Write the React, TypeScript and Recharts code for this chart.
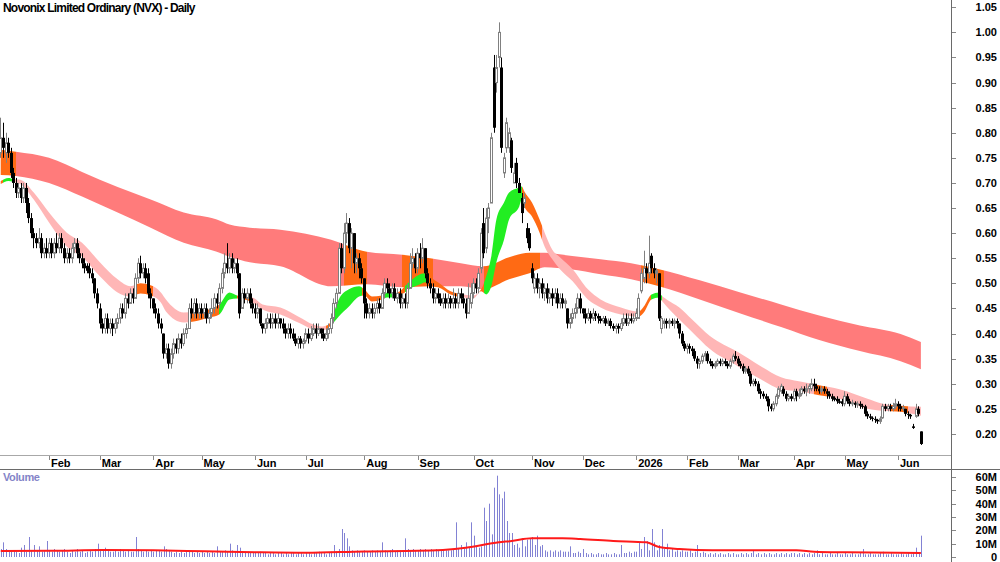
import React from "react";
import { Area, Bar, ComposedChart, Line, XAxis, YAxis } from "recharts";

const FONT = '"Liberation Sans", Arial, Helvetica, sans-serif';

// one entry per trading day, Jan 2025 .. mid Jun 2026
const opens = [
  0.76, 0.79, 0.76, 0.78, 0.76, 0.72, 0.7, 0.68, 0.69, 0.67, 0.69, 0.66, 0.63, 0.6, 0.59, 0.58, 0.59, 0.56, 0.57,
  0.56, 0.58, 0.56, 0.58, 0.57, 0.59, 0.57, 0.55, 0.56, 0.55, 0.57, 0.58, 0.56, 0.55, 0.54, 0.535, 0.53, 0.52, 0.51, 0.48,
  0.45, 0.42, 0.41, 0.43, 0.41, 0.42, 0.41, 0.42, 0.43, 0.45, 0.44, 0.47, 0.46, 0.48, 0.47, 0.51, 0.54, 0.52, 0.53, 0.52, 0.48,
  0.47, 0.45, 0.44, 0.42, 0.4, 0.36, 0.37, 0.34, 0.36, 0.38, 0.37, 0.39, 0.38, 0.4, 0.41, 0.45, 0.44, 0.46, 0.44,
  0.45, 0.44, 0.45, 0.43, 0.44, 0.45, 0.47, 0.46, 0.49, 0.52, 0.54, 0.53, 0.55, 0.53, 0.54, 0.52, 0.45, 0.48, 0.47, 0.48, 0.46,
  0.45, 0.44, 0.45, 0.42, 0.41, 0.42, 0.43, 0.42, 0.43, 0.42, 0.43, 0.42, 0.41, 0.4, 0.41, 0.4, 0.39, 0.38, 0.39, 0.38,
  0.385, 0.4, 0.39, 0.4, 0.41, 0.4, 0.41, 0.4, 0.39, 0.4, 0.41, 0.43, 0.46, 0.48, 0.57, 0.53, 0.6, 0.62, 0.57, 0.6, 0.54, 0.55, 0.53,
  0.51, 0.46, 0.44, 0.45, 0.44, 0.45, 0.46, 0.45, 0.48, 0.5, 0.49, 0.48, 0.49, 0.47, 0.48, 0.46, 0.47, 0.46, 0.49, 0.54, 0.55,
  0.53, 0.56, 0.55, 0.57, 0.52, 0.5, 0.49, 0.47, 0.48, 0.47, 0.46, 0.47, 0.46, 0.47, 0.46, 0.47, 0.46, 0.48, 0.47, 0.46, 0.44, 0.46,
  0.48, 0.5, 0.49, 0.53, 0.62, 0.57, 0.63, 0.66, 0.93, 0.9, 0.95, 0.93, 0.72, 0.77, 0.77, 0.785, 0.7, 0.74, 0.7, 0.67, 0.66, 0.61, 0.6,
  0.53, 0.49, 0.51, 0.49, 0.5, 0.48, 0.49, 0.47, 0.48, 0.47, 0.48, 0.46, 0.47, 0.46, 0.45, 0.42, 0.43, 0.44, 0.45, 0.47,
  0.45, 0.44, 0.43, 0.44, 0.43, 0.44, 0.435, 0.43, 0.425, 0.43, 0.42, 0.425, 0.415, 0.41, 0.415, 0.41, 0.42, 0.43, 0.42, 0.43, 0.425,
  0.43, 0.43, 0.485, 0.51, 0.53, 0.52, 0.555, 0.53, 0.52, 0.52, 0.41, 0.42, 0.425, 0.42, 0.425, 0.42, 0.425, 0.42, 0.4, 0.38,
  0.37, 0.375, 0.37, 0.365, 0.35, 0.34, 0.345, 0.355, 0.36, 0.345, 0.34, 0.335, 0.34, 0.345, 0.34, 0.345, 0.34, 0.335, 0.345, 0.355,
  0.35, 0.34, 0.335, 0.325, 0.33, 0.32, 0.3, 0.305, 0.3, 0.285, 0.28, 0.275, 0.27, 0.255, 0.25, 0.26, 0.275, 0.285, 0.29, 0.28, 0.27, 0.275,
  0.27, 0.285, 0.275, 0.28, 0.29, 0.285, 0.29, 0.29, 0.3, 0.295, 0.29, 0.285, 0.29, 0.285, 0.28, 0.275, 0.272, 0.27, 0.265, 0.265,
  0.26, 0.275, 0.265, 0.26, 0.262, 0.258, 0.26, 0.256, 0.255, 0.24, 0.235, 0.232, 0.23, 0.228, 0.225, 0.232, 0.255, 0.25, 0.255, 0.25, 0.255,
  0.26, 0.255, 0.25, 0.25, 0.24, 0.238, 0.215, 0.235, 0.25, 0.205,
];

const highs = [
  0.83, 0.82, 0.8, 0.79, 0.77, 0.73, 0.71, 0.7, 0.7, 0.7, 0.7, 0.67, 0.64, 0.61, 0.6, 0.61, 0.6, 0.58, 0.59,
  0.59, 0.59, 0.59, 0.6, 0.6, 0.6, 0.58, 0.57, 0.57, 0.58, 0.59, 0.59, 0.57, 0.56, 0.55, 0.54, 0.54, 0.53, 0.51, 0.49,
  0.46, 0.43, 0.44, 0.44, 0.43, 0.43, 0.43, 0.44, 0.46, 0.46, 0.48, 0.48, 0.49, 0.49, 0.52, 0.55, 0.555, 0.54, 0.54, 0.53, 0.49,
  0.47, 0.46, 0.45, 0.43, 0.4, 0.38, 0.38, 0.37, 0.39, 0.39, 0.4, 0.4, 0.41, 0.42, 0.46, 0.47, 0.47, 0.47, 0.46,
  0.46, 0.46, 0.46, 0.45, 0.47, 0.48, 0.48, 0.5, 0.53, 0.56, 0.58, 0.56, 0.56, 0.55, 0.55, 0.52, 0.49, 0.49, 0.49, 0.49, 0.47,
  0.46, 0.46, 0.45, 0.42, 0.43, 0.44, 0.44, 0.44, 0.44, 0.44, 0.43, 0.43, 0.42, 0.42, 0.42, 0.41, 0.4, 0.395, 0.395, 0.39,
  0.41, 0.41, 0.415, 0.42, 0.42, 0.42, 0.41, 0.41, 0.41, 0.42, 0.44, 0.47, 0.49, 0.58, 0.58, 0.62, 0.64, 0.63, 0.61, 0.6, 0.56, 0.56, 0.54,
  0.51, 0.47, 0.46, 0.46, 0.46, 0.47, 0.47, 0.49, 0.51, 0.51, 0.5, 0.5, 0.5, 0.49, 0.49, 0.48, 0.48, 0.5, 0.56, 0.57, 0.56,
  0.57, 0.58, 0.59, 0.57, 0.53, 0.51, 0.5, 0.49, 0.49, 0.48, 0.48, 0.48, 0.48, 0.475, 0.49, 0.48, 0.49, 0.49, 0.48, 0.47, 0.5, 0.5,
  0.51, 0.51, 0.53, 0.61, 0.65, 0.65, 0.66, 0.8, 0.955, 0.955, 1.02, 0.95, 0.76, 0.83, 0.81, 0.79, 0.74, 0.75, 0.71, 0.68, 0.68, 0.62, 0.61,
  0.54, 0.52, 0.52, 0.51, 0.51, 0.5, 0.5, 0.49, 0.49, 0.49, 0.49, 0.48, 0.48, 0.47, 0.45, 0.44, 0.45, 0.46, 0.48, 0.48,
  0.45, 0.45, 0.45, 0.445, 0.45, 0.445, 0.44, 0.435, 0.435, 0.435, 0.43, 0.43, 0.42, 0.42, 0.42, 0.43, 0.44, 0.44, 0.44, 0.44, 0.44,
  0.45, 0.48, 0.53, 0.565, 0.54, 0.595, 0.56, 0.54, 0.53, 0.52, 0.435, 0.43, 0.43, 0.43, 0.43, 0.43, 0.43, 0.42, 0.405, 0.385,
  0.38, 0.38, 0.375, 0.37, 0.355, 0.35, 0.36, 0.365, 0.365, 0.35, 0.345, 0.345, 0.35, 0.35, 0.35, 0.35, 0.345, 0.35, 0.36, 0.365,
  0.355, 0.345, 0.34, 0.335, 0.335, 0.325, 0.31, 0.31, 0.305, 0.29, 0.285, 0.28, 0.275, 0.26, 0.265, 0.28, 0.295, 0.3, 0.295, 0.285, 0.28, 0.28,
  0.29, 0.29, 0.29, 0.295, 0.295, 0.3, 0.3, 0.31, 0.31, 0.3, 0.295, 0.295, 0.295, 0.29, 0.285, 0.28, 0.275, 0.275, 0.27, 0.27,
  0.285, 0.28, 0.27, 0.268, 0.265, 0.265, 0.265, 0.26, 0.258, 0.245, 0.24, 0.235, 0.235, 0.23, 0.235, 0.26, 0.26, 0.26, 0.26, 0.262, 0.27,
  0.265, 0.26, 0.258, 0.25, 0.245, 0.24, 0.22, 0.26, 0.255, 0.205,
];

const lows = [
  0.75, 0.75, 0.74, 0.75, 0.71, 0.69, 0.67, 0.67, 0.66, 0.66, 0.64, 0.62, 0.59, 0.57, 0.57, 0.57, 0.55, 0.55, 0.55,
  0.55, 0.55, 0.55, 0.56, 0.56, 0.56, 0.54, 0.54, 0.54, 0.54, 0.56, 0.55, 0.54, 0.53, 0.52, 0.52, 0.51, 0.5, 0.47, 0.45,
  0.41, 0.4, 0.4, 0.4, 0.4, 0.395, 0.4, 0.41, 0.42, 0.43, 0.43, 0.45, 0.46, 0.46, 0.47, 0.5, 0.51, 0.51, 0.5, 0.47, 0.45,
  0.44, 0.43, 0.41, 0.4, 0.35, 0.35, 0.33, 0.33, 0.35, 0.36, 0.36, 0.37, 0.375, 0.39, 0.41, 0.43, 0.43, 0.43, 0.43,
  0.43, 0.43, 0.42, 0.42, 0.43, 0.44, 0.45, 0.45, 0.48, 0.51, 0.52, 0.52, 0.52, 0.52, 0.51, 0.43, 0.45, 0.46, 0.46, 0.45, 0.44,
  0.43, 0.43, 0.415, 0.4, 0.4, 0.41, 0.41, 0.41, 0.41, 0.41, 0.41, 0.4, 0.39, 0.39, 0.39, 0.385, 0.375, 0.37, 0.37, 0.37,
  0.38, 0.38, 0.385, 0.395, 0.39, 0.395, 0.39, 0.385, 0.385, 0.39, 0.4, 0.42, 0.45, 0.48, 0.52, 0.52, 0.58, 0.56, 0.53, 0.52, 0.52, 0.51, 0.5,
  0.43, 0.43, 0.43, 0.43, 0.43, 0.44, 0.44, 0.45, 0.47, 0.48, 0.47, 0.47, 0.465, 0.46, 0.45, 0.45, 0.45, 0.45, 0.49, 0.53, 0.52,
  0.52, 0.53, 0.54, 0.51, 0.49, 0.48, 0.46, 0.46, 0.46, 0.455, 0.45, 0.45, 0.45, 0.45, 0.45, 0.45, 0.45, 0.46, 0.45, 0.43, 0.44, 0.45,
  0.47, 0.48, 0.48, 0.52, 0.55, 0.56, 0.6, 0.66, 0.8, 0.88, 0.93, 0.76, 0.71, 0.76, 0.76, 0.72, 0.7, 0.69, 0.68, 0.62, 0.65, 0.58, 0.565,
  0.5, 0.48, 0.48, 0.47, 0.47, 0.465, 0.46, 0.46, 0.455, 0.46, 0.45, 0.45, 0.45, 0.45, 0.41, 0.41, 0.42, 0.43, 0.44, 0.44,
  0.43, 0.42, 0.425, 0.42, 0.425, 0.425, 0.42, 0.42, 0.42, 0.415, 0.415, 0.41, 0.405, 0.4, 0.4, 0.405, 0.415, 0.415, 0.415, 0.42, 0.42,
  0.425, 0.43, 0.48, 0.5, 0.5, 0.51, 0.52, 0.51, 0.5, 0.425, 0.4, 0.41, 0.41, 0.41, 0.415, 0.41, 0.41, 0.39, 0.375, 0.365,
  0.36, 0.36, 0.355, 0.345, 0.33, 0.33, 0.34, 0.345, 0.34, 0.335, 0.33, 0.33, 0.335, 0.335, 0.335, 0.335, 0.33, 0.33, 0.34, 0.345,
  0.335, 0.33, 0.32, 0.32, 0.315, 0.295, 0.295, 0.295, 0.28, 0.27, 0.27, 0.265, 0.245, 0.245, 0.245, 0.255, 0.27, 0.28, 0.275, 0.265, 0.265, 0.265,
  0.265, 0.265, 0.27, 0.275, 0.28, 0.275, 0.28, 0.285, 0.285, 0.285, 0.28, 0.28, 0.28, 0.27, 0.27, 0.265, 0.265, 0.26, 0.26, 0.255,
  0.255, 0.26, 0.255, 0.255, 0.252, 0.252, 0.25, 0.25, 0.235, 0.23, 0.228, 0.225, 0.222, 0.22, 0.22, 0.23, 0.245, 0.245, 0.245, 0.245, 0.25,
  0.245, 0.245, 0.245, 0.235, 0.23, 0.23, 0.21, 0.232, 0.235, 0.178,
];

const closes = [
  0.79, 0.77, 0.78, 0.76, 0.72, 0.7, 0.68, 0.69, 0.67, 0.69, 0.66, 0.63, 0.6, 0.59, 0.58, 0.59, 0.56, 0.57, 0.56,
  0.58, 0.56, 0.58, 0.57, 0.59, 0.57, 0.55, 0.56, 0.55, 0.57, 0.58, 0.56, 0.55, 0.54, 0.53, 0.525, 0.52, 0.51, 0.48, 0.46,
  0.42, 0.41, 0.43, 0.41, 0.42, 0.41, 0.42, 0.43, 0.45, 0.44, 0.47, 0.46, 0.48, 0.47, 0.51, 0.54, 0.52, 0.53, 0.51, 0.48, 0.47,
  0.45, 0.44, 0.42, 0.41, 0.36, 0.37, 0.34, 0.36, 0.38, 0.37, 0.39, 0.38, 0.4, 0.41, 0.45, 0.44, 0.46, 0.44, 0.45,
  0.44, 0.45, 0.43, 0.44, 0.45, 0.47, 0.46, 0.49, 0.52, 0.54, 0.53, 0.55, 0.53, 0.54, 0.52, 0.44, 0.48, 0.47, 0.48, 0.46, 0.45,
  0.44, 0.45, 0.42, 0.41, 0.42, 0.43, 0.42, 0.43, 0.42, 0.43, 0.42, 0.41, 0.4, 0.41, 0.4, 0.39, 0.38, 0.39, 0.38, 0.385,
  0.4, 0.39, 0.4, 0.41, 0.4, 0.41, 0.4, 0.39, 0.4, 0.41, 0.43, 0.46, 0.48, 0.57, 0.53, 0.6, 0.62, 0.57, 0.6, 0.54, 0.55, 0.53, 0.51,
  0.46, 0.44, 0.45, 0.44, 0.45, 0.46, 0.45, 0.48, 0.5, 0.49, 0.48, 0.49, 0.47, 0.48, 0.46, 0.47, 0.46, 0.49, 0.54, 0.55, 0.53,
  0.56, 0.55, 0.57, 0.52, 0.5, 0.49, 0.47, 0.48, 0.47, 0.46, 0.47, 0.46, 0.47, 0.46, 0.47, 0.46, 0.48, 0.47, 0.46, 0.44, 0.47, 0.48,
  0.5, 0.49, 0.52, 0.6, 0.56, 0.63, 0.65, 0.79, 0.81, 0.93, 1.0, 0.77, 0.75, 0.82, 0.8, 0.73, 0.72, 0.7, 0.68, 0.64, 0.67, 0.59, 0.57,
  0.51, 0.51, 0.49, 0.5, 0.48, 0.49, 0.47, 0.48, 0.47, 0.48, 0.46, 0.47, 0.46, 0.465, 0.42, 0.43, 0.44, 0.45, 0.47, 0.45,
  0.44, 0.43, 0.44, 0.43, 0.44, 0.435, 0.43, 0.425, 0.43, 0.42, 0.425, 0.415, 0.41, 0.415, 0.41, 0.42, 0.43, 0.42, 0.43, 0.425, 0.43,
  0.44, 0.47, 0.52, 0.53, 0.52, 0.54, 0.53, 0.52, 0.525, 0.43, 0.43, 0.425, 0.42, 0.425, 0.42, 0.425, 0.42, 0.4, 0.38, 0.37,
  0.375, 0.37, 0.365, 0.35, 0.34, 0.345, 0.355, 0.36, 0.345, 0.34, 0.335, 0.34, 0.345, 0.34, 0.345, 0.34, 0.335, 0.345, 0.355, 0.35,
  0.34, 0.335, 0.325, 0.33, 0.32, 0.3, 0.305, 0.3, 0.285, 0.28, 0.275, 0.27, 0.255, 0.25, 0.26, 0.275, 0.29, 0.295, 0.28, 0.27, 0.275, 0.27,
  0.285, 0.275, 0.28, 0.29, 0.285, 0.29, 0.295, 0.3, 0.295, 0.29, 0.285, 0.29, 0.285, 0.28, 0.275, 0.27, 0.268, 0.265, 0.262, 0.26,
  0.275, 0.265, 0.26, 0.262, 0.258, 0.26, 0.256, 0.255, 0.24, 0.235, 0.232, 0.23, 0.228, 0.225, 0.23, 0.255, 0.25, 0.255, 0.25, 0.255, 0.26,
  0.255, 0.25, 0.252, 0.24, 0.238, 0.235, 0.212, 0.25, 0.24, 0.18,
];

// millions of shares
const volumes = [
  6, 11, 6, 4, 4, 5, 4, 3, 7, 9, 4, 15, 5, 9, 5, 8, 4, 5, 12,
  5, 4, 6, 5, 4, 5, 6, 4, 3, 5, 4, 6, 4, 5, 3, 4, 5, 4, 6, 10,
  6, 5, 7, 5, 4, 4, 5, 4, 6, 5, 4, 5, 4, 4, 15, 6, 5, 4, 5, 4, 5,
  4, 5, 5, 4, 8, 6, 5, 4, 3, 4, 3, 4, 3, 4, 5, 4, 3, 4, 3,
  4, 3, 4, 3, 4, 3, 8, 4, 4, 5, 4, 10, 5, 4, 9, 7, 4, 3, 4, 3, 3,
  3, 3, 4, 3, 3, 2, 3, 3, 2, 3, 3, 2, 3, 2, 3, 3, 2, 3, 3, 2,
  3, 3, 2, 3, 3, 4, 3, 3, 2, 3, 4, 9, 4, 6, 21, 18, 14, 8, 5, 4, 5, 4, 4,
  5, 4, 4, 5, 4, 5, 4, 11, 5, 4, 5, 6, 4, 5, 5, 4, 14, 6, 5, 6, 5,
  5, 6, 5, 6, 5, 6, 5, 6, 5, 5, 6, 5, 5, 5, 6, 26, 6, 9, 6, 11, 7, 26,
  16, 8, 7, 8, 37, 27, 40, 17, 52, 61, 47, 44, 49, 27, 18, 18, 9, 10, 7, 14, 8, 13, 14,
  15, 9, 16, 8, 9, 5, 4, 5, 4, 5, 4, 5, 4, 4, 4, 8, 3, 3, 4, 3,
  6, 3, 2, 3, 2, 2, 3, 2, 2, 3, 2, 2, 3, 2, 2, 9, 3, 3, 4, 3, 4,
  4, 11, 6, 15, 12, 5, 21, 11, 5, 9, 21, 6, 10, 5, 6, 4, 5, 4, 5, 4,
  4, 5, 3, 4, 9, 3, 4, 3, 2, 3, 2, 3, 2, 3, 2, 2, 3, 2, 3, 2,
  2, 3, 2, 3, 2, 3, 5, 2, 3, 2, 3, 2, 3, 2, 2, 3, 2, 3, 2, 3, 2, 3,
  3, 2, 3, 2, 3, 2, 3, 2, 3, 5, 2, 3, 2, 2, 3, 2, 2, 3, 2, 2,
  3, 2, 2, 3, 2, 2, 3, 6, 2, 2, 3, 2, 2, 2, 3, 4, 2, 2, 3, 2, 2,
  2, 3, 2, 2, 3, 2, 3, 7, 3, 16,
];

// long-term ribbon edges, read at these day indexes
const longIdx = [0, 6, 19, 32, 46, 59, 72, 85, 90, 98, 110, 130, 144, 158, 169, 181, 190, 200, 208, 214, 224, 236, 248, 259, 275, 291, 307, 322, 338, 354, 362];
const longLo = [0.716, 0.714, 0.7, 0.673, 0.641, 0.611, 0.581, 0.563, 0.553, 0.542, 0.534, 0.494, 0.498, 0.492, 0.494, 0.494, 0.488, 0.508, 0.52, 0.532, 0.528, 0.518, 0.508, 0.494, 0.468, 0.44, 0.413, 0.387, 0.365, 0.345, 0.329];
const longHi = [0.766, 0.762, 0.75, 0.722, 0.692, 0.667, 0.641, 0.627, 0.617, 0.611, 0.607, 0.587, 0.563, 0.557, 0.55, 0.54, 0.534, 0.552, 0.561, 0.561, 0.555, 0.548, 0.54, 0.528, 0.506, 0.482, 0.458, 0.436, 0.416, 0.399, 0.383];

// short-term ribbon edges
const shortIdx = [0, 3, 5, 8, 13, 19, 26, 32, 39, 46, 51, 55, 59, 63, 65, 72, 76, 82, 86, 90, 93, 96, 99, 103, 110, 117, 123, 126, 129, 131, 133, 137, 141, 143, 146, 150, 152, 155, 157, 159, 162, 165, 167, 169, 172, 177, 182, 186, 189, 191, 193, 195, 198, 200, 204, 205, 206, 209, 212, 214, 217, 220, 225, 231, 236, 244, 251, 253, 256, 259, 260, 262, 267, 272, 279, 290, 299, 307, 314, 322, 330, 341, 347, 354, 362];
const shortHi = [0.704, 0.71, 0.708, 0.706, 0.681, 0.641, 0.601, 0.581, 0.542, 0.508, 0.494, 0.5, 0.496, 0.482, 0.468, 0.442, 0.444, 0.448, 0.458, 0.482, 0.476, 0.474, 0.472, 0.458, 0.452, 0.434, 0.418, 0.414, 0.418, 0.442, 0.468, 0.488, 0.494, 0.488, 0.474, 0.476, 0.482, 0.48, 0.484, 0.494, 0.508, 0.518, 0.52, 0.512, 0.502, 0.484, 0.478, 0.476, 0.488, 0.514, 0.554, 0.627, 0.661, 0.681, 0.691, 0.693, 0.683, 0.661, 0.627, 0.601, 0.567, 0.552, 0.528, 0.488, 0.468, 0.452, 0.444, 0.454, 0.478, 0.482, 0.476, 0.468, 0.452, 0.428, 0.395, 0.363, 0.335, 0.313, 0.305, 0.297, 0.289, 0.27, 0.26, 0.256, 0.254];
const shortLo = [0.698, 0.704, 0.702, 0.697, 0.667, 0.621, 0.573, 0.553, 0.514, 0.482, 0.474, 0.48, 0.476, 0.462, 0.444, 0.422, 0.424, 0.432, 0.438, 0.468, 0.47, 0.468, 0.462, 0.448, 0.438, 0.422, 0.408, 0.405, 0.412, 0.422, 0.434, 0.454, 0.474, 0.476, 0.464, 0.468, 0.472, 0.472, 0.476, 0.482, 0.492, 0.498, 0.502, 0.494, 0.492, 0.478, 0.472, 0.47, 0.484, 0.478, 0.494, 0.542, 0.587, 0.627, 0.653, 0.667, 0.653, 0.633, 0.601, 0.573, 0.548, 0.528, 0.504, 0.468, 0.452, 0.438, 0.434, 0.442, 0.468, 0.472, 0.466, 0.454, 0.428, 0.403, 0.369, 0.335, 0.309, 0.289, 0.285, 0.277, 0.27, 0.25, 0.246, 0.244, 0.236];

// colour state of each ribbon along the days: [from, to, state]
const longSpans: [number, number, string][] = [
  [0, 6, "o"], [6, 135, "r"], [135, 144, "o"], [144, 158, "r"], [158, 170, "o"], [170, 190, "r"],
  [190, 212, "o"], [212, 252, "r"], [252, 261, "o"], [261, 362, "r"],
];
const shortSpans: [number, number, string][] = [
  [0, 1, "o"], [1, 5, "g"], [5, 53, "p"], [53, 60, "o"], [60, 74, "p"], [74, 86, "o"], [86, 93, "g"],
  [93, 99, "o"], [99, 128, "p"], [128, 130, "o"], [130, 142, "g"], [142, 151, "o"], [151, 155, "g"],
  [155, 159, "o"], [159, 168, "g"], [168, 180, "o"], [180, 188, "p"], [188, 190, "o"], [190, 205, "g"],
  [205, 213, "o"], [213, 251, "p"], [251, 256, "o"], [256, 260, "g"], [260, 320, "p"], [320, 325, "o"],
  [325, 350, "p"], [350, 357, "o"], [357, 362, "p"],
];

// volume average (millions)
const volAvgIdx = [0, 20, 40, 60, 80, 100, 120, 143, 164, 183, 196, 201, 209, 221, 228, 241, 254, 259, 267, 280, 313, 320, 333, 362];
const volAvg = [4.5, 4.6, 5.2, 5.0, 4.3, 3.6, 3.2, 4.2, 4.6, 7, 11, 12, 14, 14, 13.5, 12, 11, 7.5, 6, 5, 5, 4, 3.5, 3];

const monthTicks = [19, 39, 60, 79, 100, 120, 143, 164, 186, 209, 229, 250, 270, 290, 312, 332, 353];
const monthLabels = ["Feb", "Mar", "Apr", "May", "Jun", "Jul", "Aug", "Sep", "Oct", "Nov", "Dec", "2026", "Feb", "Mar", "Apr", "May", "Jun"];
const priceTicks = [0.2, 0.25, 0.3, 0.35, 0.4, 0.45, 0.5, 0.55, 0.6, 0.65, 0.7, 0.75, 0.8, 0.85, 0.9, 0.95, 1.0, 1.05];
const volumeTicks = [0, 10, 20, 30, 40, 50, 60];

const COLORS: Record<string, string> = { r: "#ff7b7b", o: "#ff6a14", p: "#ffb6b6", g: "#22ee22" };
const X_DOMAIN: [number, number] = [-0.28, 373.85];
const PRICE_DOMAIN: [number, number] = [0.158, 1.0645];
const VOL_DOMAIN: [number, number] = [-3.75, 66];

const rows = closes.map((c, i) => ({
  i,
  o: opens[i],
  h: highs[i],
  l: lows[i],
  c,
  range: [lows[i], highs[i]],
  v: volumes[i],
}));
const longBand = longIdx.map((i, n) => ({ i, band: [longLo[n], longHi[n]] }));
const shortBand = shortIdx.map((i, n) => ({ i, band: [shortLo[n], shortHi[n]] }));
const volAvgData = volAvgIdx.map((i, n) => ({ i, a: volAvg[n] }));

function gradient(id: string, spans: [number, number, string][], first: number, last: number) {
  const span = last - first;
  return (
    <linearGradient id={id} x1="0" y1="0" x2="1" y2="0">
      {spans.flatMap(([a, b, k], n) => [
        <stop key={`${n}a`} offset={(a - first) / span} stopColor={COLORS[k]} />,
        <stop key={`${n}b`} offset={(b - first) / span} stopColor={COLORS[k]} />,
      ])}
    </linearGradient>
  );
}

function Candle(props: any) {
  const { x, y, width, height, payload } = props;
  if (!payload || !Number.isFinite(y) || !Number.isFinite(height)) return <g />;
  const { o, h, l, c } = payload;
  const toY = (v: number) => (h > l ? y + ((h - v) / (h - l)) * height : y);
  const px = Math.round(x + width / 2);
  const top = toY(Math.max(o, c));
  const bottom = toY(Math.min(o, c));
  const bodyH = Math.max(bottom - top, 1);
  if (c >= o) {
    return (
      <g>
        <line x1={px + 0.5} x2={px + 0.5} y1={y} y2={y + height} stroke="#808080" strokeWidth={1} />
        <rect x={px - 0.5} y={top} width={2} height={bodyH} fill="#fff" stroke="#808080" strokeWidth={1} />
      </g>
    );
  }
  return (
    <g>
      <line x1={px + 0.5} x2={px + 0.5} y1={y} y2={y + height} stroke="#000" strokeWidth={1} />
      <rect x={px - 1} y={top} width={3} height={bodyH} fill="#000" />
    </g>
  );
}

function VolumeBar(props: any) {
  const { x, y, width, height } = props;
  if (!Number.isFinite(y) || !Number.isFinite(height)) return <g />;
  return <rect x={Math.round(x + width / 2)} y={y} width={1} height={Math.max(height, 0)} fill="#8282d4" />;
}

function MonthTick(props: any) {
  const { x, payload } = props;
  const label = monthLabels[monthTicks.indexOf(payload.value)];
  return (
    <g>
      <line x1={Math.round(x) + 0.5} x2={Math.round(x) + 0.5} y1={455} y2={460} stroke="#888" />
      <text x={x + 2} y={467} fontSize={11} fontWeight="bold" fontFamily={FONT} fill="#000">
        {label}
      </text>
    </g>
  );
}

function PriceTick(props: any) {
  const { y, payload } = props;
  return (
    <g>
      <line x1={952} x2={956} y1={Math.round(y) + 0.5} y2={Math.round(y) + 0.5} stroke="#888" />
      <text x={997} y={y + 4} textAnchor="end" fontSize={11} fontWeight="bold" fontFamily={FONT} fill="#000">
        {Number(payload.value).toFixed(2)}
      </text>
    </g>
  );
}

function VolumeTick(props: any) {
  const { y, payload } = props;
  const v = Number(payload.value);
  return (
    <g>
      <line x1={952} x2={956} y1={Math.round(y) + 0.5} y2={Math.round(y) + 0.5} stroke="#888" />
      <text x={997} y={y + 4} textAnchor="end" fontSize={11} fontWeight="bold" fontFamily={FONT} fill="#000">
        {v === 0 ? "0" : `${v}M`}
      </text>
    </g>
  );
}

export default function App() {
  return (
    <div
      style={{
        position: "absolute",
        left: 0,
        top: 0,
        width: 1000,
        height: 562,
        background: "#fff",
        overflow: "hidden",
        fontFamily: FONT,
      }}
    >
      <div style={{ position: "absolute", left: 0, top: 0 }}>
        <ComposedChart width={1000} height={469} data={rows} margin={{ top: 0, right: 0, bottom: 0, left: 0 }}>
          <defs>
            {gradient("longFill", longSpans, longIdx[0], longIdx[longIdx.length - 1])}
            {gradient("shortFill", shortSpans, shortIdx[0], shortIdx[shortIdx.length - 1])}
          </defs>
          <XAxis
            dataKey="i"
            type="number"
            domain={X_DOMAIN}
            allowDataOverflow
            ticks={monthTicks}
            interval={0}
            height={14}
            axisLine={false}
            tickLine={false}
            tick={(p: any) => <MonthTick {...p} />}
          />
          <YAxis
            orientation="right"
            type="number"
            width={49}
            domain={PRICE_DOMAIN}
            allowDataOverflow
            ticks={priceTicks}
            interval={0}
            axisLine={false}
            tickLine={false}
            tick={(p: any) => <PriceTick {...p} />}
          />
          <Area
            data={longBand}
            dataKey="band"
            type="monotone"
            stroke="none"
            fill="url(#longFill)"
            fillOpacity={1}
            dot={false}
            activeDot={false}
            isAnimationActive={false}
          />
          <Area
            data={shortBand}
            dataKey="band"
            type="monotone"
            stroke="none"
            fill="url(#shortFill)"
            fillOpacity={1}
            dot={false}
            activeDot={false}
            isAnimationActive={false}
          />
          <Bar dataKey="range" barSize={2} shape={(p: any) => <Candle {...p} />} isAnimationActive={false} />
        </ComposedChart>
      </div>

      <div style={{ position: "absolute", left: 0, top: 469 }}>
        <ComposedChart width={1000} height={93} data={rows} margin={{ top: 0, right: 0, bottom: 0, left: 0 }}>
          <XAxis dataKey="i" type="number" domain={X_DOMAIN} allowDataOverflow hide />
          <YAxis
            orientation="right"
            type="number"
            width={49}
            domain={VOL_DOMAIN}
            allowDataOverflow
            ticks={volumeTicks}
            interval={0}
            axisLine={false}
            tickLine={false}
            tick={(p: any) => <VolumeTick {...p} />}
          />
          <Bar dataKey="v" barSize={1} shape={(p: any) => <VolumeBar {...p} />} isAnimationActive={false} />
          <Line
            data={volAvgData}
            dataKey="a"
            type="monotone"
            stroke="#ff1a1a"
            strokeWidth={2}
            dot={false}
            activeDot={false}
            isAnimationActive={false}
          />
        </ComposedChart>
      </div>

      {/* frame lines */}
      <div style={{ position: "absolute", left: 0, top: 455, width: 951, height: 1, background: "#a8a8a8" }} />
      <div style={{ position: "absolute", left: 0, top: 469, width: 1000, height: 1, background: "#6a6a6a" }} />
      <div style={{ position: "absolute", left: 951, top: 0, width: 1, height: 562, background: "#6a6a6a" }} />

      <div
        style={{
          position: "absolute",
          left: 3,
          top: 1,
          fontSize: 12,
          fontWeight: "bold",
          letterSpacing: -0.8,
          color: "#000",
          whiteSpace: "nowrap",
        }}
      >
        Novonix Limited Ordinary (NVX) - Daily
      </div>
      <div
        style={{
          position: "absolute",
          left: 3,
          top: 471,
          fontSize: 11,
          fontWeight: "bold",
          letterSpacing: -0.4,
          color: "#8484c8",
        }}
      >
        Volume
      </div>
    </div>
  );
}
